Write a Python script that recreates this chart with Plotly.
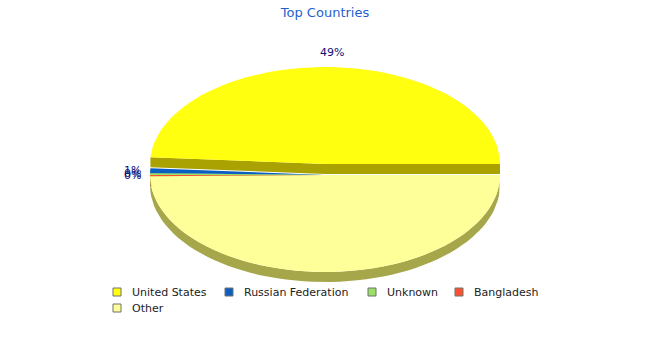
import numpy as np
import plotly.graph_objects as go

# ---- data ----
countries = ["United States", "Russian Federation", "Unknown", "Bangladesh", "Other"]
shares = [48.9, 0.8, 0.3, 0.2, 49.8]
label_text = ["49%", "1%", "0%", "0%", ""]
top_colors = ["#ffff0f", "#0a5fc0", "#99e066", "#ff5030", "#ffff99"]
side_colors = ["#aaa200", "#064585", "#6aa045", "#b03820", "#a6a64a"]
exploded = [False, True, True, True, True]

# ---- layout geometry (pixels) ----
W, H = 650, 350
cx, cy, rx, ry = 325, 164, 175, 97
depth = 10
explode_dy = 11

fig = go.Figure()

def arc(a0, a1, ccy, n=120):
    t = np.linspace(a0, a1, max(3, int(n * (a1 - a0) / (2 * np.pi)) + 3))
    return cx + rx * np.cos(t), ccy - ry * np.sin(t)

def poly(xs, ys, color):
    fig.add_trace(go.Scatter(x=list(xs) + [xs[0]], y=list(ys) + [ys[0]], mode="lines",
                             fill="toself", fillcolor=color, line=dict(width=0, color=color),
                             hoverinfo="skip", showlegend=False))

total = sum(shares)
angles = []
a = 0.0
for v in shares:
    span = 2 * np.pi * v / total
    angles.append((a, a + span))
    a += span

def draw_slice(i):
    a0, a1 = angles[i]
    ccy = cy + (explode_dy if exploded[i] else 0)
    for ang, sign in ((a0, -1), (a1, 1)):
        nrm = ang + sign * np.pi / 2
        if np.sin(nrm) < 0:
            ex, ey = cx + rx * np.cos(ang), ccy - ry * np.sin(ang)
            poly([cx, ex, ex, cx], [ccy, ey, ey + depth, ccy + depth], side_colors[i])
    lo, hi = max(a0, np.pi), min(a1, 2 * np.pi)
    if hi > lo:
        xs, ys = arc(lo, hi, ccy)
        poly(list(xs) + list(xs[::-1]), list(ys) + list((ys + depth)[::-1]), side_colors[i])
    xs, ys = arc(a0, a1, ccy)
    poly([cx] + list(xs), [ccy] + list(ys), top_colors[i])

for i in range(len(shares)):
    if not exploded[i]:
        draw_slice(i)
for i in range(len(shares)):
    if exploded[i]:
        draw_slice(i)

# slice labels
for i, txt in enumerate(label_text):
    if not txt:
        continue
    a0, a1 = angles[i]
    m = (a0 + a1) / 2
    ccy = cy + (explode_dy if exploded[i] else 0)
    fig.add_annotation(x=cx + (rx + 18) * np.cos(m), y=ccy - (ry + 15) * np.sin(m),
                       text=txt, showarrow=False,
                       font=dict(family="DejaVu Sans", size=11, color="#10107a"))

# manual legend
leg_marker_x = [117, 229, 372, 459, 117]
leg_y = [292, 292, 292, 292, 308]
for i, name in enumerate(countries):
    fig.add_trace(go.Scatter(x=[leg_marker_x[i]], y=[leg_y[i]], mode="markers",
                             marker=dict(symbol="square", size=8, color=top_colors[i],
                                         line=dict(color="#707070", width=1)),
                             hoverinfo="skip", showlegend=False))
    fig.add_annotation(x=leg_marker_x[i] + 13, y=leg_y[i], text=name, showarrow=False,
                       xanchor="left", yanchor="middle",
                       font=dict(family="DejaVu Sans", size=11, color="#222222"))

fig.update_layout(
    width=W, height=H, autosize=False,
    margin=dict(l=0, r=0, t=0, b=0),
    paper_bgcolor="white", plot_bgcolor="white",
    xaxis=dict(range=[0, W], visible=False, fixedrange=True),
    yaxis=dict(range=[H, 0], visible=False, fixedrange=True),
    title=dict(text="Top Countries", x=0.5, xanchor="center", y=1 - 12 / H, yanchor="middle",
               font=dict(family="DejaVu Sans", size=13, color="#1f5fcf")),
    showlegend=False,
)

fig.write_html("out.html")
